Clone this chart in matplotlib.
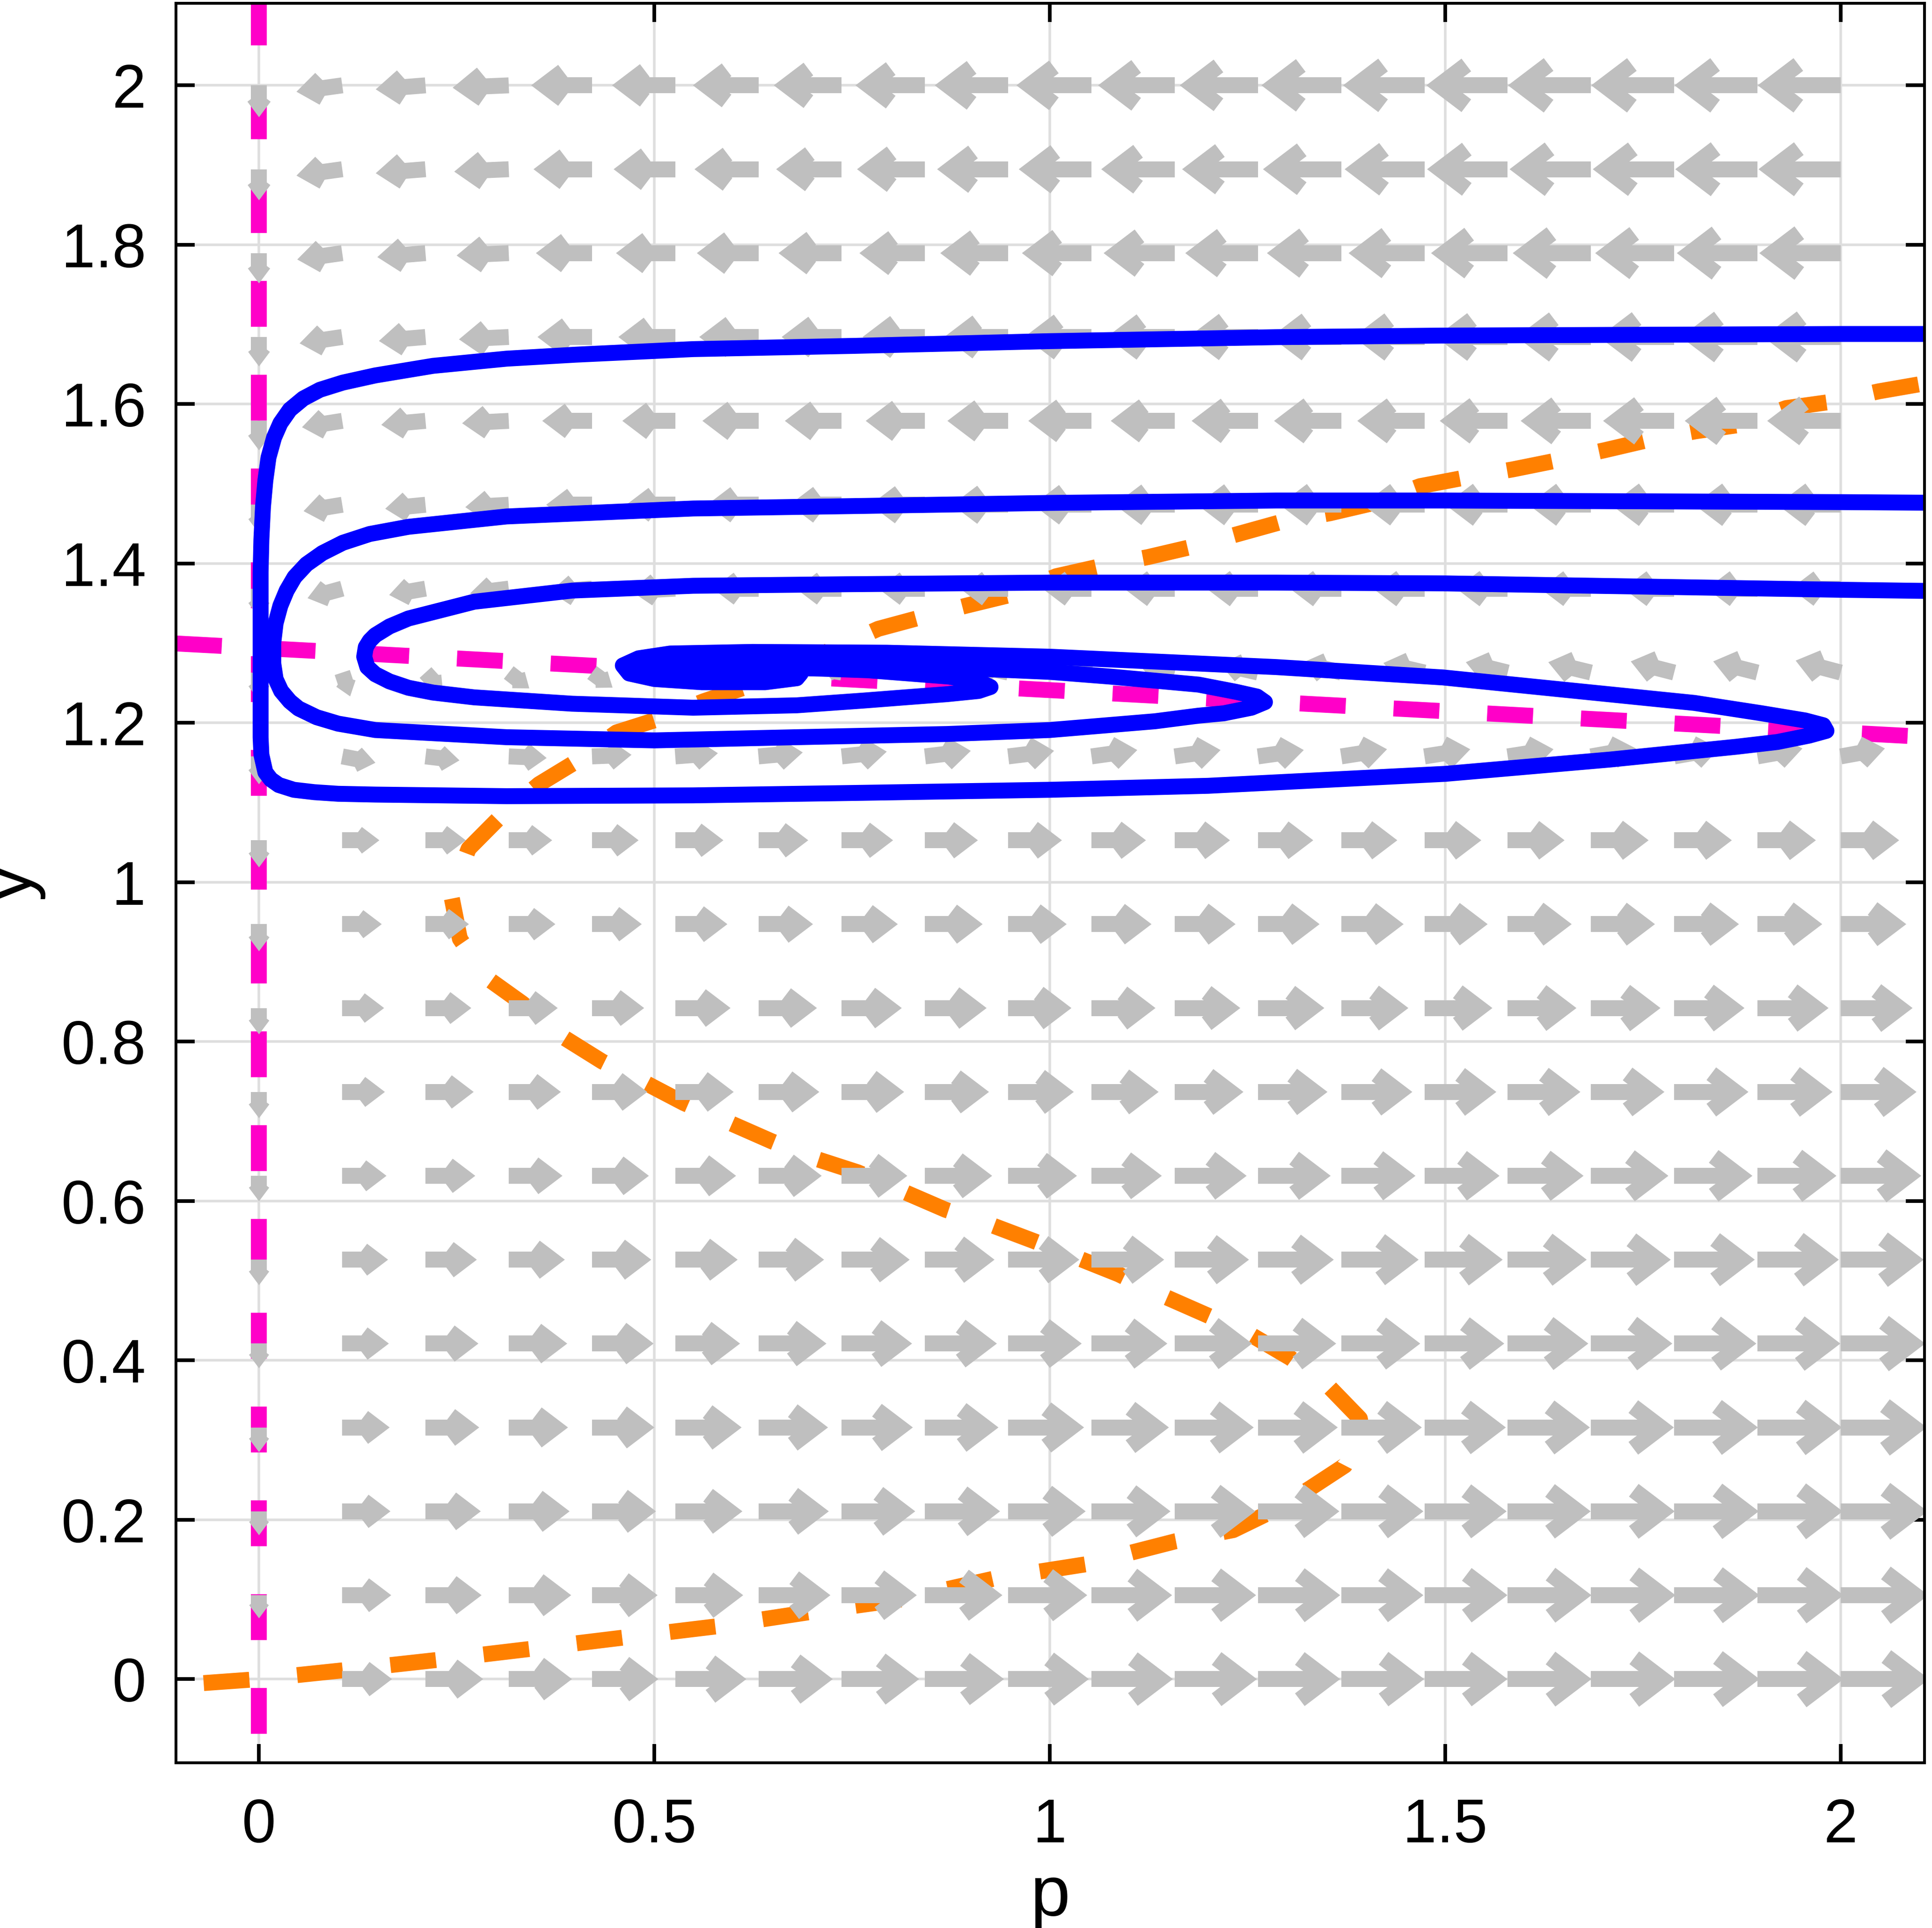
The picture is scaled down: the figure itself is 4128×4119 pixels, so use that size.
import numpy as np
import matplotlib.pyplot as plt
from matplotlib.collections import LineCollection

plt.rcParams["font.family"] = ["Liberation Sans", "DejaVu Sans"]
plt.rcParams["lines.scale_dashes"] = False

# quiver grid: 20 x 20 points on [0, 2]
grid_p = np.linspace(0, 2, 20)
grid_y = np.linspace(0, 2, 20)

# horizontal arrow components (tail to visible tip), one row per y value, bottom row first
u_rows = [
    [0, .063, .073, .080, .084, .090, .094, .098, .100, .102, .103, .104, .104, .105, .105, .106, .107, .108, .109, .112],
    [0, .062, .071, .079, .083, .086, .091, .095, .098, .100, .102, .103, .104, .104, .105, .106, .107, .108, .109, .111],
    [0, .061, .070, .077, .081, .085, .089, .093, .095, .098, .100, .102, .103, .104, .104, .105, .106, .107, .108, .110],
    [0, .060, .068, .075, .079, .084, .088, .090, .093, .096, .098, .100, .101, .102, .103, .104, .105, .106, .107, .109],
    [0, .059, .067, .074, .078, .082, .086, .089, .091, .093, .096, .098, .099, .100, .101, .102, .103, .104, .105, .107],
    [0, .058, .065, .071, .075, .079, .083, .086, .088, .090, .092, .094, .096, .098, .099, .100, .101, .102, .103, .105],
    [0, .056, .063, .068, .072, .077, .080, .083, .085, .087, .089, .091, .092, .094, .095, .096, .098, .099, .100, .102],
    [0, .054, .061, .066, .070, .074, .077, .079, .081, .083, .085, .087, .088, .090, .091, .092, .093, .094, .095, .096],
    [0, .053, .058, .062, .066, .070, .074, .076, .078, .080, .081, .083, .084, .085, .086, .087, .088, .089, .090, .091],
    [0, .050, .055, .059, .063, .066, .069, .071, .073, .074, .076, .077, .078, .079, .080, .081, .081, .082, .082, .083],
    [0, .047, .051, .055, .059, .061, .063, .065, .067, .068, .069, .070, .070, .071, .072, .072, .073, .073, .074, .074],
    [0, .042, .043, .048, .050, .054, .056, .057, .058, .058, .058, .058, .058, .058, .058, .058, .057, .057, .057, .056],
    [0, .010, .022, .026, .026, .012, -.010, -.025, -.033, -.038, -.042, -.045, -.048, -.050, -.052, -.053, -.054, -.055, -.056, -.057],
    [0, -.044, -.046, -.049, -.053, -.056, -.058, -.058, -.059, -.061, -.062, -.064, -.065, -.065, -.065, -.065, -.064, -.064, -.064, -.063],
    [0, -.049, -.051, -.055, -.058, -.062, -.065, -.066, -.069, -.071, -.074, -.076, -.077, -.078, -.078, -.079, -.079, -.080, -.080, -.080],
    [0, -.051, -.056, -.059, -.063, -.067, -.071, -.072, -.075, -.077, -.080, -.081, -.084, -.085, -.085, -.086, -.089, -.090, -.092, -.093],
    [0, -.054, -.059, -.063, -.069, -.072, -.075, -.076, -.079, -.081, -.085, -.086, -.088, -.089, -.090, -.091, -.094, -.095, -.097, -.098],
    [0, -.057, -.061, -.066, -.071, -.075, -.078, -.080, -.083, -.086, -.088, -.090, -.092, -.094, -.096, -.097, -.099, -.100, -.102, -.103],
    [0, -.058, -.063, -.069, -.074, -.078, -.081, -.083, -.086, -.090, -.092, -.093, -.096, -.099, -.101, -.102, -.103, -.103, -.104, -.104],
    [0, -.058, -.063, -.071, -.077, -.080, -.083, -.086, -.088, -.093, -.095, -.097, -.099, -.101, -.103, -.103, -.105, -.105, -.105, -.105],
]

# vertical arrow components that are visible in the picture
v_col_p0 = [0, -.029, -.030, -.031, -.031, -.032, -.032, -.033, -.033, -.034,
            -.034, -.035, -.035, -.036, -.036, -.037, -.037, -.038, -.039, -.040]
v_row_1158 = [-.035, -.008, -.005, -.002, .002, .004, .005, .006, .007, .007,
              .008, .008, .008, .009, .009, .009, .010, .010, .010, .010]
v_row_1263 = [-.035, -.030, -.024, -.020, -.019, -.015, -.008, .004, .006, .008,
              .009, .010, .011, .012, .012, .013, .013, .014, .014, .015]
v_row_1368 = [-.036, -.012, -.008, -.006, -.004, -.003, 0, 0, 0, 0,
              0, 0, 0, 0, 0, 0, 0, 0, 0, 0]
v_tilt_upper = [-.008, -.005, -.003]

# trajectories
traj1_p = [2.15, 2.0, 1.5, 1.286, 1.0, 0.75, 0.549, 0.4, 0.313, 0.22, 0.147, 0.106, 0.077,
           0.056, 0.039, 0.027, 0.019, 0.012, 0.008, 0.005, 0.003, 0.002, 0.002, 0.002,
           0.003, 0.008, 0.015, 0.025, 0.044, 0.07, 0.1, 0.147, 0.313, 0.549, 0.75, 1.0,
           1.2, 1.3, 1.5, 1.709, 1.868, 1.92, 1.96, 1.982, 1.978, 1.955, 1.9, 1.815, 1.656,
           1.497, 1.286, 1.0, 0.794, 0.624, 0.52, 0.48, 0.46, 0.468, 0.5, 0.56, 0.64, 0.68,
           0.685, 0.67, 0.62, 0.56, 0.52, 0.51, 0.53, 0.6, 0.645, 0.65, 0.62, 0.58]
traj1_y = [1.688, 1.688, 1.686, 1.684, 1.679, 1.673, 1.669, 1.662, 1.657, 1.648, 1.636, 1.627,
           1.618, 1.607, 1.593, 1.576, 1.558, 1.533, 1.504, 1.471, 1.43, 1.389, 1.306, 1.182,
           1.160, 1.138, 1.129, 1.122, 1.116, 1.113, 1.111, 1.110, 1.108, 1.109, 1.112, 1.116,
           1.121, 1.126, 1.136, 1.154, 1.170, 1.176, 1.184, 1.190, 1.197, 1.203, 1.212, 1.225,
           1.241, 1.257, 1.270, 1.283, 1.288, 1.289, 1.287, 1.281, 1.272, 1.262, 1.255, 1.251,
           1.251, 1.256, 1.262, 1.268, 1.273, 1.274, 1.270, 1.264, 1.259, 1.257, 1.259, 1.263,
           1.266, 1.265]

traj2_p = [2.15, 2.0, 1.5, 1.286, 1.0, 0.75, 0.549, 0.313, 0.189, 0.14, 0.106, 0.08, 0.06,
           0.045, 0.035, 0.027, 0.021, 0.018, 0.018, 0.021, 0.028, 0.039, 0.05, 0.073, 0.1,
           0.147, 0.313, 0.5, 0.68, 0.87, 1.0, 1.133, 1.188, 1.22, 1.255, 1.272, 1.262, 1.235,
           1.188, 1.077, 1.0, 0.907, 0.8, 0.68, 0.58, 0.5, 0.47, 0.49, 0.55, 0.63, 0.68, 0.66,
           0.6, 0.55, 0.56, 0.62, 0.6]
traj2_y = [1.476, 1.477, 1.479, 1.479, 1.476, 1.472, 1.469, 1.459, 1.446, 1.437, 1.426, 1.413,
           1.399, 1.383, 1.366, 1.347, 1.325, 1.300, 1.275, 1.255, 1.240, 1.227, 1.218, 1.207,
           1.199, 1.191, 1.182, 1.178, 1.182, 1.186, 1.191, 1.202, 1.209, 1.212, 1.219, 1.226,
           1.233, 1.239, 1.248, 1.258, 1.264, 1.268, 1.272, 1.276, 1.278, 1.275, 1.267, 1.258,
           1.253, 1.253, 1.258, 1.265, 1.268, 1.266, 1.260, 1.259, 1.263]

traj3_p = [2.15, 2.0, 1.5, 1.286, 1.0, 0.75, 0.549, 0.396, 0.272, 0.189, 0.165, 0.147, 0.14,
           0.135, 0.133, 0.137, 0.147, 0.165, 0.189, 0.22, 0.272, 0.396, 0.549, 0.68, 0.765,
           0.817, 0.87, 0.91, 0.925, 0.912, 0.873, 0.77, 0.712, 0.624, 0.55, 0.52, 0.55, 0.62,
           0.66, 0.63, 0.58]
traj3_y = [1.365, 1.367, 1.375, 1.376, 1.376, 1.374, 1.372, 1.366, 1.352, 1.331, 1.321, 1.310,
           1.303, 1.295, 1.283, 1.270, 1.261, 1.252, 1.244, 1.238, 1.232, 1.224, 1.219, 1.222,
           1.228, 1.232, 1.236, 1.240, 1.245, 1.251, 1.258, 1.266, 1.268, 1.270, 1.268, 1.262,
           1.256, 1.255, 1.260, 1.265, 1.264]

# y-nullcline (orange)
ynull_p = [-0.07, 0.0, 0.106, 0.225, 0.344, 0.46, 0.577, 0.696, 0.812, 0.929, 1.045, 1.159,
           1.232, 1.29, 1.33, 1.373, 1.395, 1.392, 1.349, 1.304, 1.251, 1.198, 1.143, 1.087,
           1.034, 0.979, 0.923, 0.868, 0.812, 0.757, 0.701, 0.648, 0.593, 0.537, 0.487, 0.434,
           0.384, 0.333, 0.288, 0.254, 0.243, 0.265, 0.307, 0.354, 0.402, 0.452, 0.506, 0.562,
           0.613, 0.67, 0.72, 0.783, 0.839, 0.894, 0.952, 1.008, 1.066, 1.124, 1.18, 1.238,
           1.296, 1.354, 1.41, 1.468, 1.526, 1.585, 1.64, 1.701, 1.757, 1.817, 1.873, 1.931,
           1.989, 2.048, 2.106]
ynull_y = [-0.005, 0.0, 0.011, 0.024, 0.038, 0.052, 0.066, 0.084, 0.100, 0.126, 0.144, 0.173,
           0.187, 0.215, 0.240, 0.268, 0.310, 0.327, 0.371, 0.403, 0.434, 0.457, 0.481, 0.508,
           0.529, 0.550, 0.571, 0.589, 0.613, 0.636, 0.654, 0.675, 0.699, 0.723, 0.749, 0.775,
           0.806, 0.848, 0.880, 0.929, 0.984, 1.042, 1.084, 1.123, 1.152, 1.188, 1.205, 1.227,
           1.244, 1.268, 1.290, 1.318, 1.333, 1.347, 1.361, 1.384, 1.397, 1.408, 1.421, 1.437,
           1.453, 1.463, 1.476, 1.497, 1.508, 1.518, 1.529, 1.542, 1.555, 1.566, 1.574, 1.595,
           1.603, 1.616, 1.626]

# p-nullclines (magenta)
pnull_line_p = [-0.105, 2.106]
pnull_line_y = [1.2996, 1.1825]
pnull_axis_p = [0, 0]
pnull_axis_y = [2.2035, -0.2]

W, H, DPI = 4128, 4119, 400
LINE_PX = 34
LW = LINE_PX * 72 / DPI
DASH = (98 * 72 / DPI, 102.4 * 72 / DPI)
GRAY = "#bfbfbf"


def arrow_paths(u, v):
    w_data = LINE_PX / 1690.0
    half = np.deg2rad(37)
    c, s = np.cos(half), np.sin(half)
    overshoot = 0.5 * w_data / s
    paths = []
    for j, y0 in enumerate(grid_y):
        for i, p0 in enumerate(grid_p):
            du, dv = u[j, i], v[j, i]
            L = np.hypot(du, dv)
            if L < 1e-6:
                continue
            dx, dy = du / L, dv / L
            Lv = max(L - overshoot, 0.35 * L)
            tip = (p0 + dx * Lv, y0 + dy * Lv)
            a = max(0.5 * L - 0.009, 0.25 * L)
            bx, by = -dx, -dy
            arm1 = (tip[0] + a * (bx * c - by * s), tip[1] + a * (bx * s + by * c))
            arm2 = (tip[0] + a * (bx * c + by * s), tip[1] + a * (-bx * s + by * c))
            paths.append([(p0, y0), tip])
            paths.append([arm1, tip, arm2])
    return paths


def main():
    U = np.array(u_rows)
    V = np.zeros_like(U)
    V[:, 0] = v_col_p0
    V[11, :] = v_row_1158
    V[12, :] = v_row_1263
    V[13, :] = v_row_1368
    V[14:, 1:4] = v_tilt_upper

    fig = plt.figure(figsize=(W / DPI, H / DPI), dpi=DPI)
    ax = fig.add_axes([376 / W, 1 - 3766 / H, (4112 - 376) / W, (3766 - 7) / H])

    ax.set_xlim(-0.105, 2.106)
    ax.set_ylim(-0.105, 2.103)

    # nullclines
    ax.plot(pnull_axis_p, pnull_axis_y, color="#ff00c8", lw=LW, dashes=DASH,
            dash_capstyle="butt", zorder=2)
    ax.plot(pnull_line_p, pnull_line_y, color="#ff00c8", lw=LW, dashes=DASH,
            dash_capstyle="butt", zorder=2)
    ax.plot(ynull_p, ynull_y, color="#ff8000", lw=LW, dashes=DASH,
            dash_capstyle="butt", dash_joinstyle="round", zorder=2)

    # direction field
    lc = LineCollection(arrow_paths(U, V), colors=GRAY, linewidths=LW,
                        capstyle="butt", joinstyle="miter", zorder=3)
    ax.add_collection(lc)

    # trajectories
    for tp, ty in [(traj1_p, traj1_y), (traj2_p, traj2_y), (traj3_p, traj3_y)]:
        ax.plot(tp, ty, color="#0000ff", lw=LW, solid_joinstyle="round",
                solid_capstyle="round", zorder=4)

    # axes style
    xt = [0, 0.5, 1, 1.5, 2]
    yt = [0, 0.2, 0.4, 0.6, 0.8, 1, 1.2, 1.4, 1.6, 1.8, 2]
    ax.set_xticks(xt)
    ax.set_xticklabels(["0", "0.5", "1", "1.5", "2"])
    ax.set_yticks(yt)
    ax.set_yticklabels(["0", "0.2", "0.4", "0.6", "0.8", "1", "1.2", "1.4", "1.6", "1.8", "2"])
    ax.grid(True, color="#dedede", lw=1.0, zorder=0)
    ax.set_axisbelow(True)
    for sp in ax.spines.values():
        sp.set_linewidth(1.1)
        sp.set_zorder(5)
    ax.tick_params(axis="both", which="major", direction="in", length=7.2, width=1.4,
                   top=True, right=True, labelsize=23.5, colors="black")
    ax.tick_params(axis="y", pad=11.5)
    ax.tick_params(axis="x", pad=13.3)

    fig.text(2244 / W, (H - 4092) / H, "p", fontsize=27.5, ha="center", va="baseline")
    fig.text(66 / W, 1 - 1886.5 / H, "y", fontsize=27.5, rotation=90,
             rotation_mode="anchor", ha="center", va="baseline")

    fig.savefig("out.png", dpi=DPI)


if __name__ == "__main__":
    main()
